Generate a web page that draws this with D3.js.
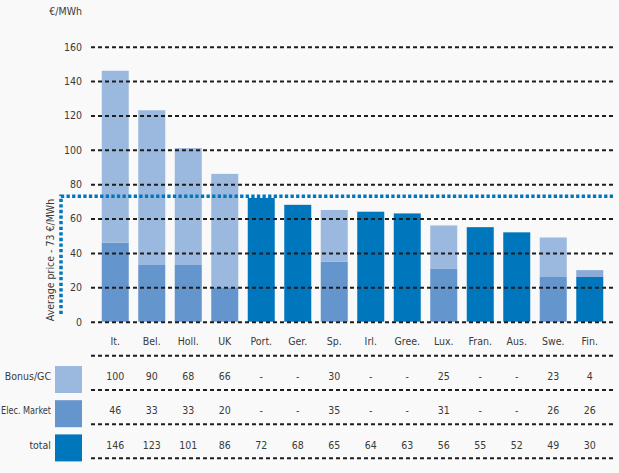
<!DOCTYPE html>
<html>
<head>
<meta charset="utf-8">
<script src="https://cdn.jsdelivr.net/npm/d3@7"></script>
<style>
  html, body { margin: 0; padding: 0; background: #f9f9f9; }
  svg { display: block; }
  text { font-family: "DejaVu Sans Condensed", sans-serif; font-size: 10.5px; fill: #3a3a3a; }
</style>
</head>
<body>
<div id="chart"></div>
<script>
const countries = ['It.', 'Bel.', 'Holl.', 'UK', 'Port.', 'Ger.', 'Sp.', 'Irl.', 'Gree.', 'Lux.', 'Fran.', 'Aus.', 'Swe.', 'Fin.']
const bonus = [100, 90, 68, 66, null, null, 30, null, null, 25, null, null, 23, 4]
const market = [46, 33, 33, 20, null, null, 35, null, null, 31, null, null, 26, 26]
const total = [146, 123, 101, 86, 72, 68, 65, 64, 63, 56, 55, 52, 49, 30]
const yTicks = [0, 20, 40, 60, 80, 100, 120, 140, 160]
const averagePrice = 73
const solidBase = ['Fin.']
const rowNames = ['Bonus/GC', 'Elec. Market', 'total']

const colors = {bonus: '#9bb8df', market: '#6495cc', total: '#0077bd', finTop: '#8aaad7'}
const gridLeft = 91, gridRight = 613

const svg = d3.select('#chart').append('svg')
  .attr('width', 619)
  .attr('height', 473)

const y = d3.scaleLinear().domain([0, 160]).range([321.7, 46.7])
const x = d3.scaleBand().domain(countries).range([97, 608])
  .paddingInner(0.26).paddingOuter(0.13)

const rows = countries.map((c, i) => ({c, bonus: bonus[i], market: market[i], total: total[i]}))

// bars: lower part (market or total), upper part (bonus)
const bars = svg.append('g')
bars.selectAll('rect.lower')
  .data(rows)
  .enter()
    .append('rect')
    .attr('class', 'lower')
    .attr('x', d => x(d.c))
    .attr('width', x.bandwidth())
    .attr('y', d => y(d.market == null ? d.total : d.market))
    .attr('height', d => y(0) - y(d.market == null ? d.total : d.market))
    .attr('fill', d => (d.market == null || solidBase.includes(d.c)) ? colors.total : colors.market)

bars.selectAll('rect.upper')
  .data(rows.filter(d => d.bonus != null))
  .enter()
    .append('rect')
    .attr('class', 'upper')
    .attr('x', d => x(d.c))
    .attr('width', x.bandwidth())
    .attr('y', d => y(d.total))
    .attr('height', d => y(d.market) - y(d.total))
    .attr('fill', d => solidBase.includes(d.c) ? colors.finTop : colors.bonus)

// dashed gridlines drawn over the bars
const yAxis = svg.append('g')
  .attr('transform', `translate(${gridLeft},0)`)
  .call(d3.axisLeft(y).tickValues(yTicks).tickSize(-(gridRight - gridLeft)).tickPadding(9))
yAxis.select('.domain').remove()
yAxis.attr('font-family', null).attr('font-size', null)
yAxis.selectAll('line')
  .attr('stroke', '#1e1e1e')
  .attr('stroke-width', 2)
  .attr('stroke-dasharray', '4,3')
yAxis.selectAll('text').attr('fill', '#4a4a4a')

svg.append('text')
  .attr('x', 82)
  .attr('y', 15)
  .attr('text-anchor', 'end')
  .text('€/MWh')

// average price line
const avgY = y(averagePrice)
svg.append('path')
  .attr('d', `M${gridRight},${avgY}H61V314`)
  .attr('fill', 'none')
  .attr('stroke', colors.total)
  .attr('stroke-width', 3.5)
  .attr('stroke-dasharray', '3.3,2.3')

svg.append('text')
  .attr('transform', 'translate(54,260) rotate(-90)')
  .attr('text-anchor', 'middle')
  .text('Average price - 73 €/MWh')

// category labels
const xAxis = svg.append('g')
  .attr('transform', `translate(0,${y(0)})`)
  .call(d3.axisBottom(x).tickSize(0).tickPadding(16))
xAxis.select('.domain').remove()
xAxis.attr('font-family', null).attr('font-size', null)
xAxis.selectAll('text').attr('fill', '#3a3a3a')

// table below chart
const tableLines = [355.7, 390, 424.3, 458.3]
svg.append('g').selectAll('line')
  .data(tableLines)
  .enter()
    .append('line')
    .attr('x1', gridLeft)
    .attr('x2', gridRight)
    .attr('y1', d => d)
    .attr('y2', d => d)
    .attr('stroke', '#1e1e1e')
    .attr('stroke-width', 2)
    .attr('stroke-dasharray', '4,3')

const tableSeries = [bonus, market, total]
const swatchColors = [colors.bonus, colors.market, colors.total]
const rowCenter = i => 376.7 + i * 34.2

rowNames.forEach((name, i) => {
  svg.append('rect')
    .attr('x', 55)
    .attr('y', rowCenter(i) - 10.7)
    .attr('width', 27)
    .attr('height', 27)
    .attr('fill', swatchColors[i])

  const label = svg.append('text')
    .attr('x', 51)
    .attr('y', rowCenter(i) + 3.5)
    .attr('text-anchor', 'end')
    .text(name)
  // squeeze long labels so they stay inside the left edge
  if (label.node().getComputedTextLength() > 50) {
    label.attr('textLength', 50).attr('lengthAdjust', 'spacingAndGlyphs')
  }

  svg.append('g').selectAll('text')
    .data(tableSeries[i])
    .enter()
      .append('text')
      .attr('x', (d, j) => x(countries[j]) + x.bandwidth() / 2)
      .attr('y', rowCenter(i) + 3.5)
      .attr('text-anchor', 'middle')
      .text(d => d == null ? '-' : d)
})
</script>
</body>
</html>
